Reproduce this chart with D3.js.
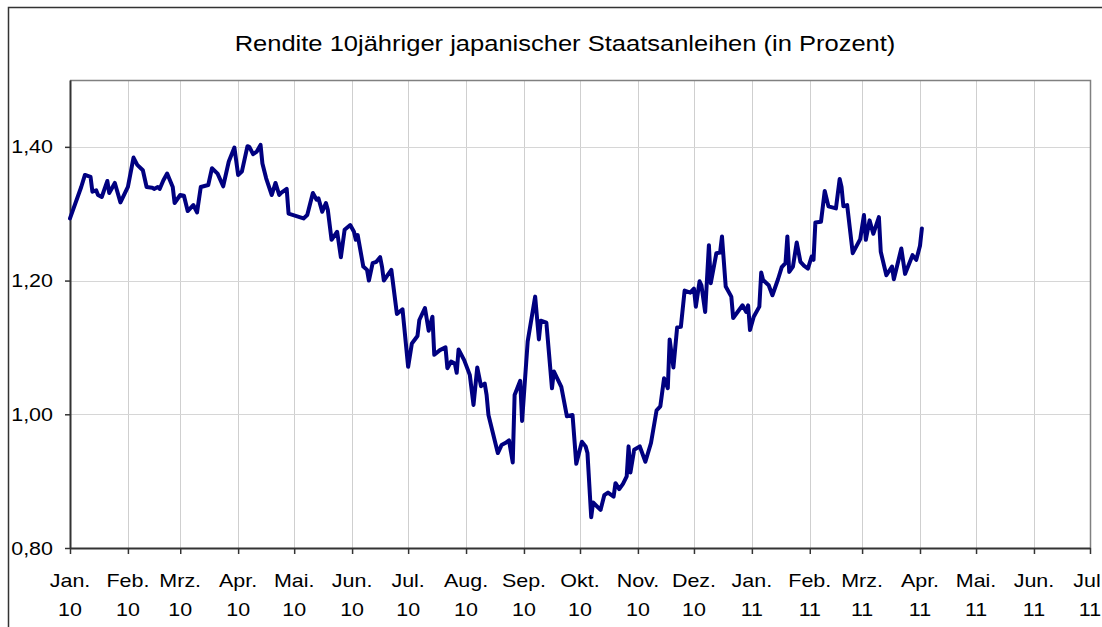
<!DOCTYPE html>
<html>
<head>
<meta charset="utf-8">
<script src="https://cdn.jsdelivr.net/npm/d3@7"></script>
<style>
  body { margin: 0; background: #fff; }
  text { font-family: "Liberation Sans", Arial, sans-serif; fill: #000; }
</style>
</head>
<body>
<svg id="chart" width="1102" height="627"></svg>
<script>
// Rendite 10j. JGB
var dates = [
  "2010-01-01","2010-01-07","2010-01-09","2010-01-12","2010-01-13","2010-01-15","2010-01-16","2010-01-18",
  "2010-01-21","2010-01-22","2010-01-25","2010-01-28","2010-02-01","2010-02-04","2010-02-06","2010-02-09",
  "2010-02-11","2010-02-14","2010-02-15","2010-02-17","2010-02-18","2010-02-20","2010-02-22","2010-02-25",
  "2010-02-26","2010-03-01","2010-03-03","2010-03-05","2010-03-08","2010-03-10","2010-03-12","2010-03-16",
  "2010-03-18","2010-03-21","2010-03-24","2010-03-27","2010-03-30","2010-04-01","2010-04-03","2010-04-06",
  "2010-04-07","2010-04-09","2010-04-11","2010-04-13","2010-04-14","2010-04-16","2010-04-19","2010-04-21",
  "2010-04-23","2010-04-24","2010-04-27","2010-04-28","2010-05-06","2010-05-08","2010-05-11","2010-05-13",
  "2010-05-14","2010-05-16","2010-05-18","2010-05-19","2010-05-21","2010-05-24","2010-05-26","2010-05-28",
  "2010-05-31","2010-06-02","2010-06-03","2010-06-04","2010-06-07","2010-06-09","2010-06-10","2010-06-12",
  "2010-06-14","2010-06-16","2010-06-17","2010-06-18","2010-06-20","2010-06-22","2010-06-25","2010-06-28",
  "2010-07-01","2010-07-03","2010-07-06","2010-07-07","2010-07-10","2010-07-12","2010-07-14","2010-07-15",
  "2010-07-18","2010-07-21","2010-07-22","2010-07-24","2010-07-26","2010-07-27","2010-07-28","2010-07-31",
  "2010-08-03","2010-08-05","2010-08-07","2010-08-09","2010-08-11","2010-08-12","2010-08-13","2010-08-18",
  "2010-08-20","2010-08-22","2010-08-24","2010-08-26","2010-08-27","2010-08-30","2010-08-31","2010-09-03",
  "2010-09-07","2010-09-09","2010-09-10","2010-09-13","2010-09-16","2010-09-17","2010-09-21","2010-09-24",
  "2010-09-27","2010-09-29","2010-10-02","2010-10-04","2010-10-05","2010-10-07","2010-10-08","2010-10-12",
  "2010-10-14","2010-10-16","2010-10-19","2010-10-20","2010-10-22","2010-10-24","2010-10-26","2010-10-27",
  "2010-10-28","2010-10-30","2010-11-02","2010-11-05","2010-11-08","2010-11-11","2010-11-13","2010-11-15",
  "2010-11-17","2010-11-18","2010-11-20","2010-11-22","2010-11-24","2010-11-26","2010-11-29","2010-12-01",
  "2010-12-02","2010-12-04","2010-12-05","2010-12-07","2010-12-09","2010-12-10","2010-12-13","2010-12-15",
  "2010-12-16","2010-12-18","2010-12-21","2010-12-22","2010-12-27","2010-12-29","2010-12-30","2010-12-31",
  "2011-01-02","2011-01-05","2011-01-06","2011-01-07","2011-01-10","2011-01-12","2011-01-15","2011-01-17",
  "2011-01-19","2011-01-20","2011-01-21","2011-01-23","2011-01-25","2011-01-27","2011-01-29","2011-01-31",
  "2011-02-02","2011-02-03","2011-02-04","2011-02-07","2011-02-09","2011-02-11","2011-02-15","2011-02-17",
  "2011-02-18","2011-02-19","2011-02-21","2011-02-24","2011-02-28","2011-03-02","2011-03-03","2011-03-05",
  "2011-03-07","2011-03-10","2011-03-11","2011-03-14","2011-03-17","2011-03-18","2011-03-22","2011-03-24",
  "2011-03-28","2011-03-30","2011-04-01","2011-04-02"
];
var yields = [
  1.293,1.340,1.358,1.355,1.333,1.335,1.328,1.325,
  1.349,1.331,1.346,1.317,1.340,1.384,1.373,1.365,
  1.340,1.339,1.337,1.340,1.337,1.350,1.360,1.340,
  1.316,1.328,1.327,1.304,1.313,1.302,1.340,1.343,
  1.368,1.360,1.341,1.378,1.399,1.358,1.363,1.401,
  1.400,1.389,1.393,1.403,1.375,1.353,1.328,1.346,
  1.328,1.331,1.337,1.300,1.293,1.298,1.331,1.321,
  1.323,1.303,1.316,1.306,1.261,1.273,1.235,1.276,
  1.283,1.273,1.261,1.268,1.221,1.216,1.200,1.226,
  1.228,1.235,1.221,1.200,1.208,1.216,1.150,1.157,
  1.071,1.106,1.117,1.141,1.159,1.125,1.146,1.089,
  1.096,1.100,1.069,1.079,1.076,1.062,1.097,1.081,
  1.059,1.014,1.070,1.042,1.046,1.029,0.999,0.942,
  0.954,0.957,0.961,0.928,1.029,1.050,0.990,1.109,
  1.176,1.112,1.140,1.137,1.039,1.064,1.041,0.997,
  0.999,0.926,0.959,0.952,0.942,0.846,0.868,0.857,
  0.879,0.883,0.877,0.897,0.888,0.896,0.907,0.952,
  0.913,0.947,0.952,0.929,0.957,1.006,1.012,1.054,
  1.039,1.112,1.070,1.130,1.131,1.185,1.182,1.188,
  1.161,1.199,1.193,1.153,1.253,1.196,1.241,1.242,
  1.266,1.191,1.176,1.144,1.163,1.153,1.163,1.126,
  1.146,1.161,1.212,1.201,1.193,1.178,1.202,1.220,
  1.226,1.266,1.213,1.221,1.257,1.228,1.222,1.218,
  1.236,1.231,1.287,1.288,1.334,1.311,1.308,1.352,
  1.340,1.311,1.313,1.241,1.262,1.298,1.261,1.290,
  1.270,1.295,1.243,1.208,1.221,1.202,1.248,1.210,
  1.238,1.231,1.252,1.278
];
var monthNames = ["Jan.","Feb.","Mrz.","Apr.","Mai.","Jun.","Jul.","Aug.","Sep.","Okt.","Nov.","Dez."];
var yTicks = [0.8, 1.0, 1.2, 1.4];
var title = "Rendite 10jähriger japanischer Staatsanleihen (in Prozent)";

var parse = d3.timeParse("%Y-%m-%d");
var data = dates.map(function (d, i) { return { date: parse(d), value: yields[i] }; });

var svg = d3.select("#chart");
var pLeft = 70, pRight = 1090, pTop = 80, pBottom = 548;
var stretch = 1.13; // Schrift im Original breit gezogen

var x = d3.scaleTime()
    .domain([new Date(2010, 0, 1), new Date(2011, 6, 1)])
    .range([pLeft, pRight]);
var y = d3.scaleLinear().domain([0.8, 1.5]).range([pBottom, pTop]);

// outer frame
svg.append("rect")
    .attr("x", 8.5).attr("y", 7.5)
    .attr("width", 1120).attr("height", 660)
    .attr("fill", "none").attr("stroke", "#333").attr("stroke-width", 1.5);

svg.append("text")
    .attr("transform", "translate(565,51) scale(1.16,1)")
    .attr("text-anchor", "middle")
    .style("font-size", "22px")
    .text(title);

var months = x.ticks(d3.timeMonth.every(1));

// grid
svg.append("g").selectAll("line")
    .data(months.slice(1))
    .enter().append("line")
    .attr("x1", function (d) { return Math.round(x(d)) + 0.5; })
    .attr("x2", function (d) { return Math.round(x(d)) + 0.5; })
    .attr("y1", pTop).attr("y2", pBottom)
    .attr("stroke", "#cfcfcf");

svg.append("g").selectAll("line")
    .data(yTicks.slice(1))
    .enter().append("line")
    .attr("x1", pLeft).attr("x2", pRight)
    .attr("y1", function (d) { return Math.round(y(d)) + 0.5; })
    .attr("y2", function (d) { return Math.round(y(d)) + 0.5; })
    .attr("stroke", "#d6d6d6");

// plot border top/right
svg.append("path")
    .attr("d", "M" + pLeft + "," + (pTop + 0.5) + "H" + (pRight + 0.5) + "V" + pBottom)
    .attr("fill", "none").attr("stroke", "#808080").attr("stroke-width", 1.5);

// y axis
var yAxis = d3.axisLeft(y).tickValues(yTicks).tickSize(5).tickSizeOuter(0).tickFormat("");
var gy = svg.append("g").attr("transform", "translate(" + pLeft + ",0)").call(yAxis);
gy.select(".domain").attr("stroke", "#333").attr("stroke-width", 2);
gy.selectAll(".tick line").attr("stroke", "#333").attr("stroke-width", 1.5);

svg.append("g").selectAll("text")
    .data(yTicks)
    .enter().append("text")
    .attr("transform", function (d) { return "translate(53," + (y(d) + 6.5) + ") scale(" + stretch + ",1)"; })
    .attr("text-anchor", "end")
    .style("font-size", "19px")
    .text(function (d) { return d3.format(".2f")(d).replace(".", ","); });

// x axis
var xAxis = d3.axisBottom(x).tickValues(months).tickSize(6).tickSizeOuter(0).tickFormat("");
var gx = svg.append("g").attr("transform", "translate(0," + pBottom + ")").call(xAxis);
gx.select(".domain").attr("stroke", "#333").attr("stroke-width", 2);
gx.selectAll(".tick line").attr("stroke", "#333").attr("stroke-width", 1.5);

var lbl = svg.append("g").selectAll("g")
    .data(months)
    .enter().append("g")
    .attr("transform", function (d) { return "translate(" + x(d) + ",0) scale(" + stretch + ",1)"; });
lbl.append("text")
    .attr("y", 587)
    .attr("text-anchor", "middle")
    .style("font-size", "19px")
    .text(function (d) { return monthNames[d.getMonth()]; });
lbl.append("text")
    .attr("y", 616)
    .attr("text-anchor", "middle")
    .style("font-size", "19px")
    .text(function (d) { return d3.timeFormat("%y")(d); });

// line
var line = d3.line()
    .x(function (d) { return x(d.date); })
    .y(function (d) { return y(d.value); });

svg.append("path")
    .datum(data)
    .attr("d", line)
    .attr("fill", "none")
    .attr("stroke", "#000080")
    .attr("stroke-width", 4)
    .attr("stroke-linejoin", "round")
    .attr("stroke-linecap", "round");
</script>
</body>
</html>
